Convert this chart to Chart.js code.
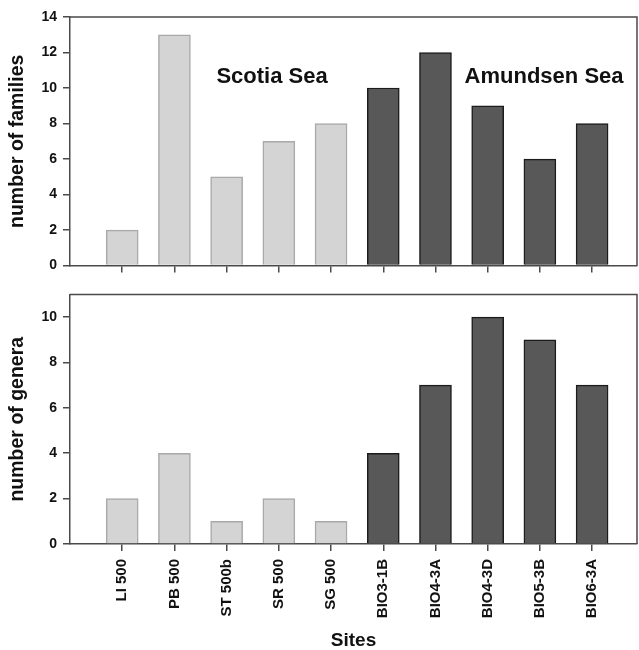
<!DOCTYPE html>
<html>
<head>
<meta charset="utf-8">
<script src="https://cdn.jsdelivr.net/npm/chart.js@4.4.1/dist/chart.umd.min.js"></script>
<style>
  body { margin: 0; background: #fff; }
  .wrap { position: relative; width: 639px; height: 650px; }
  canvas { position: absolute; left: 0; }
  #famChart { top: 0; }
  #genChart { top: 280px; }
</style>
</head>
<body>
<div class="wrap">
  <canvas id="famChart" width="639" height="280"></canvas>
  <canvas id="genChart" width="639" height="370"></canvas>
</div>
<script>
// data
const sites = ["LI 500", "PB 500", "ST 500b", "SR 500", "SG 500",
               "BIO3-1B", "BIO4-3A", "BIO4-3D", "BIO5-3B", "BIO6-3A"];
const region = ["Scotia", "Scotia", "Scotia", "Scotia", "Scotia",
                "Amundsen", "Amundsen", "Amundsen", "Amundsen", "Amundsen"];
const families = [2, 13, 5, 7, 8, 10, 12, 9, 6, 8];
const genera = [2, 4, 1, 2, 1, 4, 7, 10, 9, 7];
const famTicks = [0, 2, 4, 6, 8, 10, 12, 14];
const genTicks = [0, 2, 4, 6, 8, 10];

const FONT = "'Liberation Sans', Arial, sans-serif";
const AXIS = "#4a4a4a";

const fill = (ctx) => region[ctx.dataIndex] === "Scotia" ? "#d4d4d4" : "#585858";
const edge = (ctx) => region[ctx.dataIndex] === "Scotia" ? "#a9a9a9" : "#1c1c1c";

// top + right frame lines of each panel
const framePlugin = {
  id: "frame",
  afterDraw(chart) {
    const { ctx, chartArea: a } = chart;
    ctx.save();
    ctx.strokeStyle = AXIS;
    ctx.lineWidth = 1.5;
    ctx.beginPath();
    ctx.moveTo(a.left, a.top);
    ctx.lineTo(a.right, a.top);
    ctx.lineTo(a.right, a.bottom);
    ctx.stroke();
    ctx.restore();
  },
};

// region labels in the upper panel
const seaLabels = {
  id: "seaLabels",
  afterDatasetsDraw(chart) {
    const { ctx, scales } = chart;
    ctx.save();
    ctx.font = "bold 22px " + FONT;
    ctx.fillStyle = "#111";
    ctx.textAlign = "center";
    ctx.textBaseline = "alphabetic";
    ctx.fillText("Scotia Sea", scales.x.getPixelForValue(3.87), scales.y.getPixelForValue(10.3));
    ctx.fillText("Amundsen Sea", scales.x.getPixelForValue(9.08), scales.y.getPixelForValue(10.3));
    ctx.restore();
  },
};

function makeChart(id, values, yTicks, yMax, yTitle, showSites, extraPlugins, pad) {
  return new Chart(document.getElementById(id), {
    type: "bar",
    data: {
      datasets: [{
        data: values.map((v, i) => ({ x: i + 1, y: v })),
        backgroundColor: fill,
        borderColor: edge,
        borderWidth: 1.5,
        barThickness: 32,
      }],
    },
    options: {
      responsive: false,
      animation: false,
      layout: { padding: pad },
      plugins: { legend: { display: false }, tooltip: { enabled: false } },
      scales: {
        x: {
          type: "linear",
          offset: false,
          min: 0,
          max: 10.86,
          afterBuildTicks: (s) => { s.ticks = sites.map((_, i) => ({ value: i + 1 })); },
          afterFit: (s) => { s.height = showSites ? 106 : 11; },
          grid: { offset: false, drawOnChartArea: false, drawTicks: true, tickLength: 7, color: AXIS, lineWidth: 1.5 },
          border: { color: AXIS, width: 1.5 },
          ticks: {
            display: showSites,
            autoSkip: false,
            minRotation: 90,
            maxRotation: 90,
            padding: 8,
            color: "#111",
            font: { family: FONT, size: 15, weight: "bold" },
            callback: (v) => sites[v - 1],
          },
          title: {
            display: showSites,
            text: "Sites",
            color: "#111",
            padding: { top: 0, bottom: 0 },
            font: { family: FONT, size: 19, weight: "bold", lineHeight: 1 },
          },
        },
        y: {
          min: 0,
          max: yMax,
          afterBuildTicks: (s) => { s.ticks = yTicks.map((v) => ({ value: v })); },
          afterFit: (s) => { s.width = 70; },
          grid: { drawOnChartArea: false, drawTicks: true, tickLength: 7, color: AXIS, lineWidth: 1.5 },
          border: { color: AXIS, width: 1.5 },
          ticks: {
            padding: 6,
            color: "#111",
            font: { family: FONT, size: 14, weight: "bold" },
          },
          title: {
            display: true,
            text: yTitle,
            color: "#111",
            padding: { top: 8, bottom: 0 },
            font: { family: FONT, size: 19.5, weight: "bold", lineHeight: 1 },
          },
        },
      },
    },
    plugins: [framePlugin, ...extraPlugins],
  });
}

makeChart("famChart", families, famTicks, 14, "number of families", false, [seaLabels],
  { top: 17, right: 2, left: 0, bottom: 0 });
makeChart("genChart", genera, genTicks, 11, "number of genera", true, [],
  { top: 10, right: 2, left: 0, bottom: 0 });
</script>
</body>
</html>
